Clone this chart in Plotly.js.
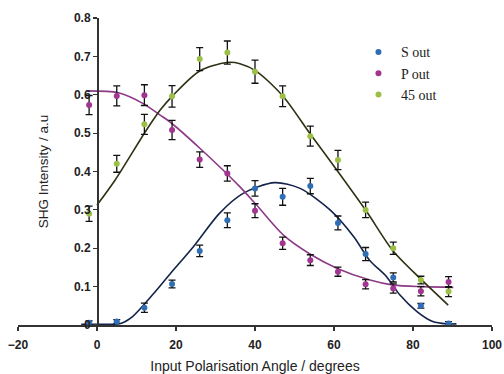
<!DOCTYPE html>
<html>
<head>
<meta charset="utf-8">
<script src="https://cdn.plot.ly/plotly-3.0.1.min.js"></script>
<style>
  html, body { margin: 0; padding: 0; background: #fff; }
  #chart { width: 504px; height: 374px; }
</style>
</head>
<body>
<div id="chart"></div>
<script>
// Input polarisation angles (degrees)
const angles = [-2, 5, 12, 19, 26, 33, 40, 47, 54, 61, 68, 75, 82, 89];

// Measured SHG intensity (a.u.) and uncertainties for each output polarisation
const sOut = [0.006, 0.009, 0.045, 0.107, 0.193, 0.273, 0.356, 0.334, 0.362, 0.266, 0.185, 0.124, 0.05, 0.004];
const sErr = [0.005, 0.005, 0.012, 0.01, 0.015, 0.019, 0.02, 0.022, 0.02, 0.018, 0.017, 0.012, 0.006, 0.005];

const pOut = [0.573, 0.597, 0.599, 0.508, 0.431, 0.395, 0.298, 0.213, 0.169, 0.139, 0.106, 0.095, 0.088, 0.112];
const pErr = [0.025, 0.026, 0.027, 0.025, 0.02, 0.02, 0.018, 0.016, 0.014, 0.012, 0.012, 0.012, 0.012, 0.014];

const out45 = [0.29, 0.42, 0.523, 0.596, 0.693, 0.71, 0.66, 0.596, 0.492, 0.43, 0.30, 0.20, 0.117, 0.087];
const err45 = [0.02, 0.022, 0.026, 0.028, 0.03, 0.03, 0.03, 0.027, 0.026, 0.025, 0.02, 0.016, 0.01, 0.013];

// Fitted curves
const sFitX = [-4, 0, 6, 9, 14, 18.5, 24.4, 31, 37, 45, 51.4, 59, 65, 69, 73.3, 76.7, 81, 85, 88.5, 91];
const sFitY = [0.002, 0.002, 0.004, 0.022, 0.078, 0.133, 0.204, 0.291, 0.343, 0.371, 0.356, 0.30, 0.23, 0.169, 0.126, 0.078, 0.035, 0.009, 0.003, 0.003];

const pFitX = [-2.5, 5.4, 11.7, 16, 18.5, 26.1, 36.2, 40.4, 47.2, 53.9, 60.7, 69.1, 75, 82.6, 90.2];
const pFitY = [0.61, 0.605, 0.577, 0.547, 0.529, 0.46, 0.36, 0.3125, 0.234, 0.185, 0.148, 0.117, 0.104, 0.10, 0.098];

const fit45X = [0, 4.6, 12.2, 16, 19.3, 26, 32.8, 36.2, 40.4, 47.2, 53.9, 60.7, 68.3, 74.8, 81.8, 88.9];
const fit45Y = [0.3125, 0.378, 0.503, 0.56, 0.599, 0.662, 0.684, 0.681, 0.661, 0.595, 0.499, 0.404, 0.295, 0.195, 0.1215, 0.052];

const seriesNames = ['S out', 'P out', '45 out'];
const colS = '#2f6db5', colP = '#a2358f', col45 = '#9cbf48';

function fit(x, y, color) {
  return { x: x, y: y, mode: 'lines', showlegend: false, hoverinfo: 'skip',
           line: { color: color, width: 1.6, shape: 'spline', smoothing: 0.8 } };
}
function pts(y, err, color, name) {
  return { x: angles, y: y, name: name, mode: 'markers',
           marker: { color: color, size: 6 },
           error_y: { type: 'data', array: err, visible: true, color: '#111', thickness: 1.3, width: 3.5 } };
}

const data = [
  fit(sFitX, sFitY, '#14234a'),
  fit(pFitX, pFitY, '#8c3a86'),
  fit(fit45X, fit45Y, '#2e3212'),
  pts(sOut, sErr, colS, seriesNames[0]),
  pts(pOut, pErr, colP, seriesNames[1]),
  pts(out45, err45, col45, seriesNames[2])
];

const tickFont = { family: 'Liberation Sans, Arial, sans-serif', size: 12, color: '#222', weight: 'bold' };
const titleFont = { family: 'Liberation Sans, Arial, sans-serif', size: 13.5, color: '#222' };

const layout = {
  width: 504, height: 374,
  margin: { l: 18, r: 12, t: 18, b: 49 },
  paper_bgcolor: '#ffffff', plot_bgcolor: '#ffffff',
  showlegend: true,
  legend: {
    x: 0.713, y: 0.94, xanchor: 'left', yanchor: 'top',
    itemwidth: 35,
    font: { family: 'Liberation Serif, Times New Roman, serif', size: 14, color: '#222' },
    bgcolor: 'rgba(0,0,0,0)', tracegroupgap: 0
  },
  xaxis: {
    range: [-20, 100], dtick: 20, tick0: 0,
    showgrid: false, zeroline: false,
    showline: true, linecolor: '#333', linewidth: 1.5,
    ticks: 'outside', ticklen: 4, tickcolor: '#333', tickwidth: 1.2,
    ticklabelstandoff: 4,
    tickfont: tickFont,
    title: { text: 'Input Polarisation Angle / degrees', font: { family: titleFont.family, size: 14, color: '#222' }, standoff: 10 }
  },
  yaxis: {
    range: [0, 0.8], dtick: 0.1, tick0: 0,
    anchor: 'free', position: 20 / 120,
    showgrid: false, zeroline: false,
    showline: true, linecolor: '#333', linewidth: 1.5,
    ticks: 'outside', ticklen: 4, tickcolor: '#333', tickwidth: 1.2,
    tickfont: tickFont,
    title: { text: 'SHG Intensity / a.u', font: titleFont, standoff: 20 }
  }
};

Plotly.newPlot('chart', data, layout, { displayModeBar: false, staticPlot: true });
</script>
</body>
</html>
